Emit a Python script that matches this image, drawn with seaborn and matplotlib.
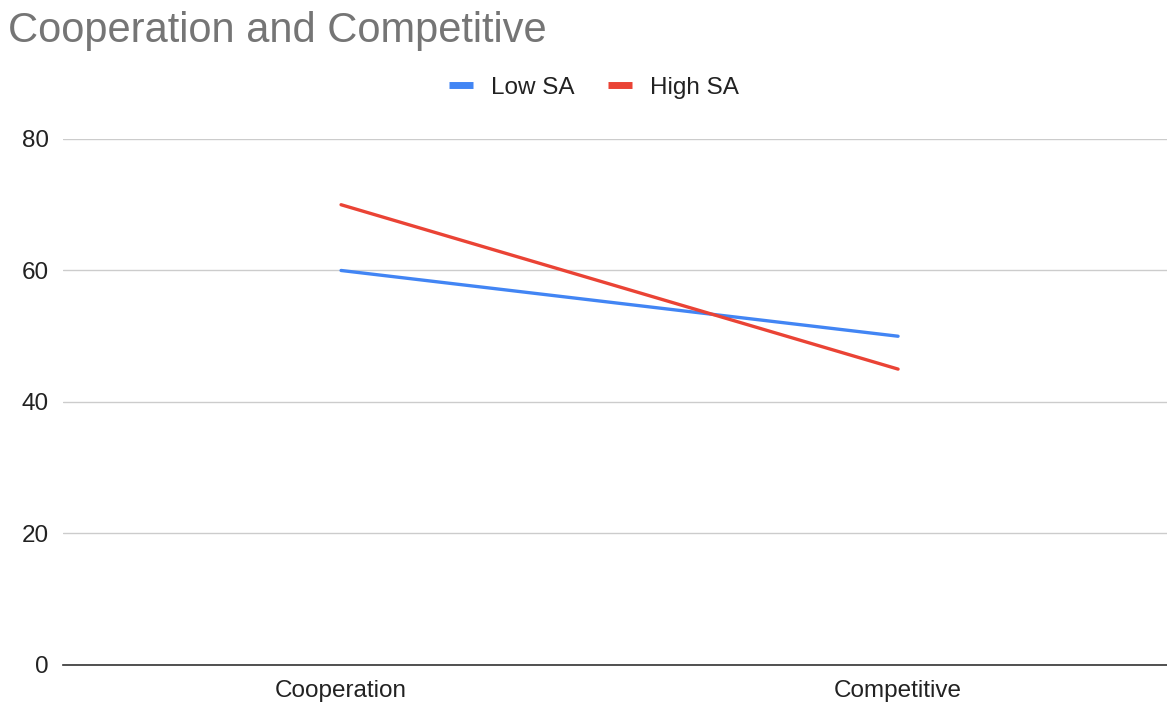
import pandas as pd
import matplotlib.pyplot as plt
import seaborn as sns

# values
categories = ['Cooperation', 'Competitive']
low_sa = [60, 50]
high_sa = [70, 45]
series_names = ['Low SA', 'High SA']
y_ticks = [0, 20, 40, 60, 80]

df = pd.DataFrame({
    'Condition': categories * 2,
    'Score': low_sa + high_sa,
    'Group': [series_names[0]] * len(categories) + [series_names[1]] * len(categories),
})

sns.set_style('white')
plt.rcParams['font.family'] = ['Liberation Sans', 'DejaVu Sans']

fig = plt.figure(figsize=(11.67, 7.04), dpi=100)
ax = fig.add_axes([0.0536, 0.0554, 0.9546, 0.7472])

sns.lineplot(data=df, x='Condition', y='Score', hue='Group',
             palette={'Low SA': '#4285F4', 'High SA': '#EA4335'},
             linewidth=2.4, ax=ax, legend=False)

ax.set_xlim(-0.5, 1.5)
ax.set_ylim(0, 80)
ax.set_yticks(y_ticks)
ax.yaxis.grid(True, color='#cccccc', linewidth=1)
ax.set_axisbelow(True)
for side in ['top', 'right', 'left']:
    ax.spines[side].set_visible(False)
ax.spines['bottom'].set_color('#333333')
ax.spines['bottom'].set_linewidth(1.2)
ax.tick_params(axis='both', length=0, labelsize=17.5, colors='#222222')
ax.tick_params(axis='x', pad=11)
ax.tick_params(axis='y', pad=10)
ax.set_xlabel('')
ax.set_ylabel('')

fig.text(0.007, 1 - 42 / 704, 'Cooperation and Competitive', fontsize=30,
         color='#757575', ha='left', va='baseline')

handles = [plt.Line2D([], [], color='#4285F4', linewidth=5, solid_capstyle='butt'),
           plt.Line2D([], [], color='#EA4335', linewidth=5, solid_capstyle='butt')]
fig.legend(handles, series_names, loc='center', bbox_to_anchor=(0.5086, 0.8757),
           ncol=2, frameon=False, fontsize=17.5, handlelength=1.0,
           columnspacing=1.38, handletextpad=0.73, labelcolor='#222222',
           borderpad=0, borderaxespad=0)

fig.savefig('out.png', dpi=100)
